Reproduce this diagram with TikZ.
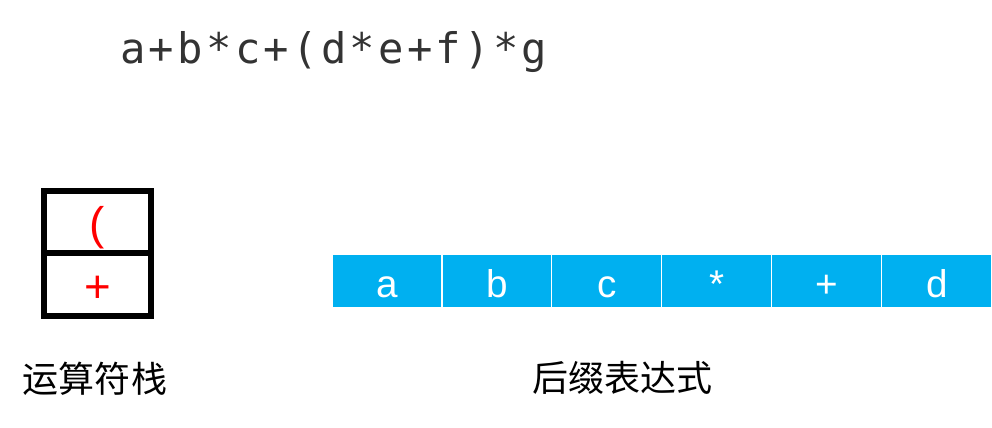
\documentclass[tikz,border=0pt]{standalone}
\usepackage{fontspec}
\setmainfont{Liberation Sans}
\newfontfamily\cjk{Noto Sans CJK SC}
\newfontfamily\exprfont[LetterSpace=7.8]{DejaVu Sans Mono}
\usetikzlibrary{positioning}
\definecolor{cellblue}{HTML}{00B0F0}
\definecolor{exprgray}{HTML}{333333}

\begin{document}
\begin{tikzpicture}[x=0.02cm,y=-0.02cm,
  expr/.style={inner sep=0pt,text=exprgray,font=\exprfont\fontsize{24}{28}\selectfont},
  stackcell/.style={draw=black,line width=3.4pt,outer sep=0pt,inner sep=0pt,
            minimum width=2.14cm,minimum height=1.25cm,text=red,
            text height=20pt,text depth=0pt,font=\fontsize{26}{30}\selectfont},
  pcell/.style={draw=white,line width=0.6pt,fill=cellblue,outer sep=0pt,inner sep=0pt,
            minimum width=2.2cm,minimum height=1.08cm,text=white,
            text height=19pt,text depth=0pt,font=\fontsize{22}{26}\selectfont},
  lbl/.style={inner sep=0pt,font=\cjk\fontsize{20.5}{24}\selectfont}]
\useasboundingbox (0,0) rectangle (992,427);
\node[expr,anchor=base west] (expr) at (120,63) {a+b*c+(d*e+f)*g};
% operator stack
\node[stackcell] (lp) at (97.5,222) {(};
\node[stackcell,below=0pt of lp] (pl) {+};
\node[lbl] (stacklbl) at (95,379) {运算符栈};
% postfix output
\node[pcell] (pa) at (387,281) {a};
\node[pcell,right=0pt of pa] (pb) {b};
\node[pcell,right=0pt of pb] (pc) {c};
\node[pcell,right=0pt of pc] (pmul) {*};
\node[pcell,right=0pt of pmul] (padd) {+};
\node[pcell,right=0pt of padd] (pd) {d};
\node[lbl] (postlbl) at (622.5,378) {后缀表达式};
\end{tikzpicture}
\end{document}
